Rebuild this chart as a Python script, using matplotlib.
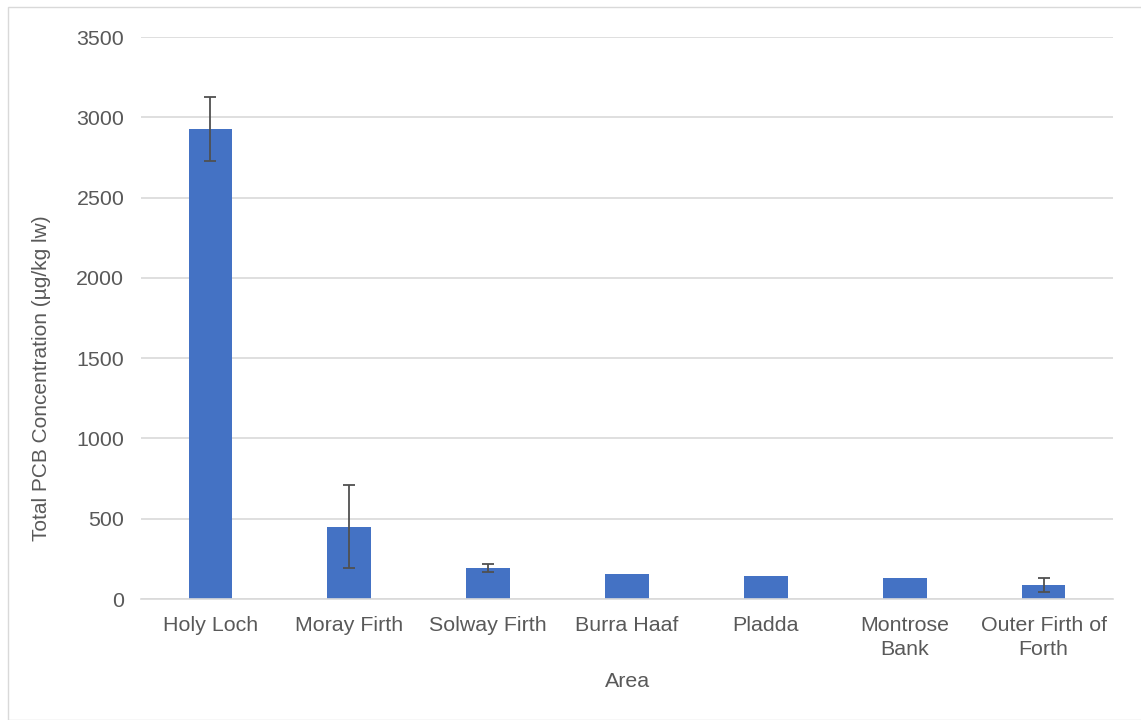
import numpy as np
import matplotlib.pyplot as plt
from matplotlib.patches import Rectangle

plt.rcParams['font.family'] = ['Liberation Sans', 'DejaVu Sans']

areas = ["Holy Loch", "Moray Firth", "Solway Firth", "Burra Haaf", "Pladda",
         "Montrose\nBank", "Outer Firth of\nForth"]
pcb = [2925, 450, 192, 153, 145, 132, 88]
err = [200, 258, 26, 0, 0, 0, 44]

txt = '#595959'
fs = 15.4
fig = plt.figure(figsize=(11.41, 7.2), dpi=100)
ax = fig.add_axes([0.1236, 0.168, 0.8519, 0.7806])

x = np.arange(len(areas))
yerr = np.array(err, dtype=float)
ax.bar(x, pcb, width=0.315, color='#4472C4', zorder=2)
m = yerr > 0
ax.errorbar(x[m], np.array(pcb)[m], yerr=yerr[m], fmt='none', ecolor='#505050',
            elinewidth=1.3, capsize=4.5, capthick=1.3, zorder=3)

ax.set_xlim(-0.5, len(areas) - 0.5)
ax.set_ylim(0, 3500)
ax.set_yticks(range(0, 3501, 500))
ax.set_xticks(x)
ax.set_xticklabels(areas, linespacing=1.36)
ax.grid(axis='y', color='#D9D9D9', linewidth=1.2, zorder=0)
for s in ['top', 'right', 'left']:
    ax.spines[s].set_visible(False)
ax.spines['bottom'].set_color('#D9D9D9')
ax.spines['bottom'].set_linewidth(1.2)
ax.tick_params(axis='both', length=0, labelsize=fs, colors=txt)
ax.tick_params(axis='y', pad=12)
ax.tick_params(axis='x', pad=12)

ax.set_xlabel('Area', fontsize=fs, color=txt, labelpad=9)
ax.set_ylabel('Total PCB Concentration (µg/kg lw)', fontsize=15, color=txt)
ax.yaxis.set_label_coords(-0.093, 0.393)

fig.patches.append(Rectangle((8 / 1141, 0), 1.2, 1 - 7 / 720, transform=fig.transFigure,
                             fill=False, edgecolor='#D9D9D9', linewidth=1))

fig.savefig('out.png', dpi=100)
